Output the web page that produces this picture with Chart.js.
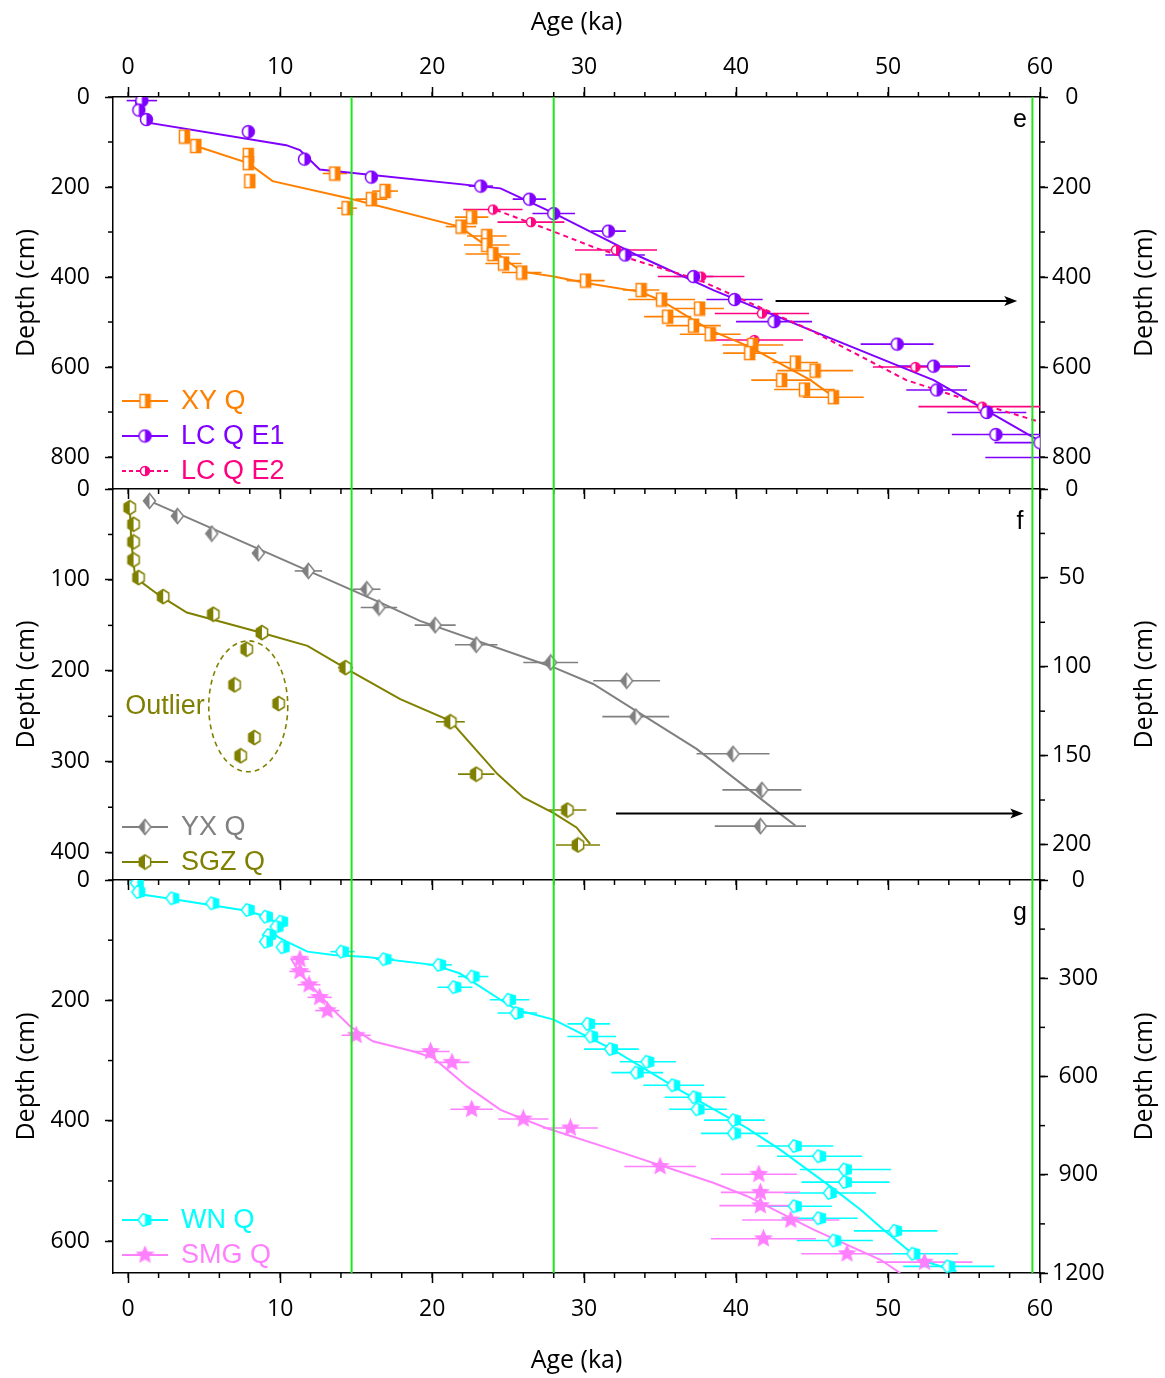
<!DOCTYPE html>
<html>
<head>
<meta charset="utf-8">
<script src="https://cdn.jsdelivr.net/npm/chart.js@4.4.1/dist/chart.umd.min.js"></script>
<style>
  html, body { margin: 0; padding: 0; background: #fff; }
  #wrap { position: relative; width: 1165px; height: 1378px; background: #fff; }
  #wrap canvas { position: absolute; left: 0; }
</style>
</head>
<body>
<div id="wrap">
  <canvas id="pe" width="1165" height="500" style="top:0px"></canvas>
  <canvas id="pf" width="1165" height="422" style="top:469px"></canvas>
  <canvas id="pg" width="1165" height="518" style="top:860px"></canvas>
</div>
<script>
// ---- shared axis values ----
const AGE_MIN = -1, AGE_MAX = 60;
const AGE_TICKS = [0, 10, 20, 30, 40, 50, 60];
const BOUNDARIES = [14.7, 28.0, 59.5];

// ---- panel e ----
const E_MAX = 871;
const E_TICKS = [0, 200, 400, 600, 800];
const XY_AGE = [3.7, 4.45, 7.9, 7.9, 8.0, 13.6, 16.9, 16.0, 14.4, 22.6, 21.9, 23.6, 23.6, 24.0, 24.7, 25.9, 30.1, 33.75, 35.1, 37.6, 35.5, 37.2, 38.3, 41.1, 40.9, 43.9, 45.2, 43.0, 44.5, 46.4];
const XY_DEPTH = [88, 109, 129, 147, 187, 170, 209, 227, 247, 267, 288, 309, 329, 349, 370, 390, 408, 429, 450, 470, 488, 508, 527, 551, 569, 590, 608, 629, 650, 667];
const XY_ERR = [0.3, 0.3, 0.3, 0.3, 0.3, 0.8, 0.85, 1.05, 0.65, 1.1, 1.0, 1.3, 1.5, 1.8, 1.2, 1.3, 1.25, 1.2, 2.2, 1.6, 1.55, 1.8, 2.0, 2.0, 1.75, 1.5, 2.5, 2.0, 2.0, 2.0];
const XY_LINE_AGE = [4.45, 7.9, 9.5, 14.5, 21.8, 23.2, 25.9, 28.0, 30.2, 33.7, 35.0, 38.3, 40.9, 44.9, 46.7];
const XY_LINE_DEPTH = [109, 147, 187, 225, 288, 322, 388, 399, 414, 433, 451, 518, 555, 629, 673];

const E1_AGE = [0.9, 0.7, 1.2, 7.9, 11.6, 16.0, 23.2, 26.4, 28.0, 31.6, 32.7, 37.2, 39.9, 42.5, 50.6, 53.0, 53.2, 56.5, 57.1, 60.0, 62.0];
const E1_DEPTH = [8, 29, 50, 77, 138, 178, 198, 227, 259, 298, 351, 399, 450, 499, 549, 598, 651, 701, 750, 768, 801];
const E1_ERR = [1.0, 0.2, 0.2, 0.2, 0.2, 0.3, 0.8, 1.1, 1.4, 1.15, 1.3, 1.3, 1.85, 2.5, 2.4, 2.4, 2.0, 2.6, 2.9, 3.0, 5.6];
const E1_LINE_AGE = [0.5, 0.6, 1.1, 10.4, 11.3, 12.6, 24.5, 28.0, 33.7, 38.5, 44.9, 53.0, 59.5, 60.0];
const E1_LINE_DEPTH = [7, 33, 56, 107, 118, 161, 203, 258, 355, 429, 518, 629, 755, 764];

const E2_AGE = [24.0, 26.5, 32.1, 37.7, 41.7, 41.2, 51.8, 56.2];
const E2_DEPTH = [250, 278, 340, 399, 481, 540, 600, 688];
const E2_ERR = [1.95, 2.2, 2.7, 2.85, 3.1, 3.2, 2.8, 4.2];
const E2_LINE_AGE = [24.2, 28.0, 30.8, 37.6, 44.9, 51.2, 55.2, 60.0];
const E2_LINE_DEPTH = [251, 299, 336, 407, 518, 629, 673, 722];

// ---- panel f ----
const F_MAX = 430, F2_MAX = 220;
const F_TICKS = [0, 100, 200, 300, 400];
const F2_TICKS = [0, 50, 100, 150, 200];
const YX_AGE = [1.4, 3.24, 5.5, 8.57, 11.86, 15.7, 16.5, 20.2, 22.9, 27.8, 32.8, 33.4, 39.8, 41.7, 41.6];
const YX_DEPTH = [6.7, 15.2, 25.1, 36.1, 46.1, 56.4, 66.7, 76.6, 87.6, 97.6, 107.9, 128.1, 149.0, 169.3, 189.7];
const YX_ERR = [0, 0, 0.2, 0.4, 0.9, 0.9, 1.2, 1.35, 1.4, 1.8, 2.2, 2.2, 2.4, 2.6, 3.0];
const YX_LINE_AGE = [1.1, 16.6, 19.2, 28.0, 30.6, 34.1, 37.4, 42.9, 43.9];
const YX_LINE_DEPTH = [5.6, 63.9, 74.2, 100.4, 109.7, 128.5, 146.2, 182.8, 189.3];

const SGZ_AGE = [0.1, 0.35, 0.35, 0.35, 0.68, 2.3, 5.6, 8.8, 14.3, 21.2, 22.9, 28.9, 29.6, 7.8, 7.0, 9.9, 8.3, 7.4];
const SGZ_DEPTH = [20.5, 38.8, 58.2, 78.0, 97.4, 118.3, 137.7, 157.9, 196.4, 256, 313.6, 353.1, 391.5, 176.2, 215.4, 235.9, 273.3, 293.4];
const SGZ_ERR = [0, 0, 0, 0, 0, 0.2, 0.2, 0.3, 0.5, 0.95, 1.2, 1.25, 1.45, 0, 0, 0, 0, 0];
const SGZ_LINE_AGE = [0.09, 0.2, 0.46, 2.1, 3.86, 8.7, 11.8, 14.6, 17.9, 21.2, 24.3, 26.0, 28.0, 29.5, 30.4];
const SGZ_LINE_DEPTH = [15.1, 57, 97.5, 117.6, 135.9, 157.9, 172.5, 200, 231.1, 254.9, 313.5, 339.2, 356.4, 372.2, 390.4];

// ---- panel g ----
const G_MAX = 653, G2_MAX = 1200;
const G_TICKS = [0, 200, 400, 600];
const G2_TICKS = [0, 300, 600, 900, 1200];
const WN_AGE = [0.6, 0.7, 2.94, 5.57, 7.9, 9.1, 10.1, 9.8, 9.3, 9.1, 10.2, 14.1, 16.9, 20.5, 22.7, 21.5, 25.1, 25.6, 30.3, 30.5, 31.8, 34.2, 33.5, 35.9, 37.3, 37.5, 39.9, 39.9, 43.9, 45.5, 47.2, 47.2, 46.2, 43.9, 45.5, 46.5, 50.5, 51.7, 54.0];
const WN_DEPTH = [5, 20, 30.4, 38.7, 49.8, 60.9, 69.2, 77.5, 91.3, 102.4, 111.8, 119, 131.6, 141, 160.4, 178.1, 199, 221, 239, 260, 281, 302, 320, 341, 361, 381, 399, 421, 442, 459, 481, 502, 520, 542, 562, 599, 583, 621, 642];
const WN_ERR = [0, 0, 0, 0, 0, 0, 0, 0, 0, 0, 0, 0.8, 0.6, 0.8, 1.0, 1.15, 1.3, 1.3, 1.4, 1.6, 1.8, 1.85, 1.7, 2.0, 2.0, 1.9, 2.0, 2.2, 2.5, 2.8, 3.0, 2.9, 3.0, 2.4, 2.5, 2.5, 2.75, 2.9, 3.0];
const WN_LINE_AGE = [0.35, 3.0, 7.8, 9.1, 9.8, 9.6, 9.8, 10.4, 11.8, 13.5, 15.7, 20.1, 21.8, 24.5, 25.6, 28.0, 31.9, 36.3, 40.7, 42.9, 46.2, 48.2, 49.7, 52.1, 54.5];
const WN_LINE_DEPTH = [22, 32, 51, 61, 72, 86, 94, 102, 119, 124.5, 128, 141, 155, 199, 216, 232, 282, 349, 412, 448, 509, 548, 581, 631, 650];

const SMG_AGE = [11.3, 11.3, 11.9, 12.6, 13.1, 15.0, 19.9, 21.3, 22.6, 26.0, 29.1, 35.0, 41.5, 41.6, 41.6, 43.6, 41.8, 47.3, 52.4];
const SMG_DEPTH = [131.7, 152, 174, 195, 217, 258, 285, 303, 381, 397, 412, 476, 489, 519, 541, 565, 596, 621, 635];
const SMG_ERR = [0.6, 0.7, 0.75, 0.8, 0.8, 0.95, 1.25, 1.15, 1.4, 1.65, 1.8, 2.35, 2.5, 2.6, 2.7, 3.2, 3.45, 3.0, 3.15];
const SMG_LINE_AGE = [10.7, 11.3, 13.5, 14.6, 16.1, 18.8, 20.1, 22.3, 24.5, 27.5, 31.9, 38.5, 40.7, 45.1, 49.5, 50.8];
const SMG_LINE_DEPTH = [130, 155, 216, 243, 268, 285, 296, 343, 382, 412, 448, 503, 525, 581, 631, 653];

// colours
const C_XY = '#ff8000', C_E1 = '#8000ff', C_E2 = '#ff0080';
const C_YX = '#808080', C_SGZ = '#808000';
const C_WN = '#00ffff', C_SMG = '#ff80ff';
const C_GREEN = '#1ee61e';

const FONT = "'Open Sans', 'DejaVu Sans', sans-serif";
Chart.defaults.font.family = FONT;
Chart.defaults.font.size = 23;
Chart.defaults.color = '#000';

const zip = (xs, ys) => xs.map((x, i) => ({ x: x, y: ys[i] }));

// half filled marker images
function shapePath(g, shape, rx, ry) {
  g.beginPath();
  if (shape === 'square') {
    g.rect(-rx, -ry, 2 * rx, 2 * ry);
  } else if (shape === 'circle') {
    g.ellipse(0, 0, rx, ry, 0, 0, Math.PI * 2);
  } else if (shape === 'diamond') {
    g.moveTo(0, -ry); g.lineTo(rx, 0); g.lineTo(0, ry); g.lineTo(-rx, 0); g.closePath();
  } else if (shape === 'hexagon' || shape === 'pentagon' || shape === 'star') {
    const n = shape === 'hexagon' ? 6 : 5;
    const start = shape === 'pentagon' ? Math.PI : -Math.PI / 2;
    const pts = shape === 'star' ? 2 * n : n;
    for (let k = 0; k < pts; k++) {
      const ang = start + k * Math.PI * 2 / pts;
      const f = shape === 'star' && k % 2 ? 0.45 : 1;
      const px = Math.cos(ang) * rx * f, py = Math.sin(ang) * ry * f;
      k ? g.lineTo(px, py) : g.moveTo(px, py);
    }
    g.closePath();
  }
}

function marker(shape, color, side, w, h) {
  const c = document.createElement('canvas');
  c.width = w + 3; c.height = h + 3;
  const g = c.getContext('2d');
  g.translate(c.width / 2, c.height / 2);
  shapePath(g, shape, w / 2, h / 2);
  g.fillStyle = '#fff';
  g.fill();
  g.save();
  g.clip();
  g.fillStyle = color;
  if (side === 'right') g.fillRect(0, -h, w, 2 * h);
  else if (side === 'left') g.fillRect(-w, -h, w, 2 * h);
  else g.fillRect(-w, -h, 2 * w, 2 * h);
  g.restore();
  shapePath(g, shape, w / 2, h / 2);
  g.strokeStyle = color;
  g.lineWidth = 1.5;
  g.stroke();
  return c;
}

const M_XY = marker('square', C_XY, 'right', 10, 13);
const M_E1 = marker('circle', C_E1, 'right', 12, 12);
const M_E2 = marker('circle', C_E2, 'right', 9, 9);
const M_YX = marker('diamond', C_YX, 'left', 12, 15);
const M_SGZ = marker('hexagon', C_SGZ, 'left', 13, 14);
const M_WN = marker('pentagon', C_WN, 'right', 14, 13);
const M_SMG = marker('star', C_SMG, 'all', 16, 16);

// extras drawn on top of each panel
const DECOR = {
  pe: {
    letter: 'e', letterY: 23,
    minor: { x: 2, xb: 2, y: 100, y2: 100 },
    legend: [
      { text: 'XY Q', color: C_XY, marker: M_XY },
      { text: 'LC Q E1', color: C_E1, marker: M_E1 },
      { text: 'LC Q E2', color: C_E2, marker: M_E2, dash: [4, 3] }
    ],
    arrow: { from: 42.6, to: 58.5, depth: 453, axis: 'y' }
  },
  pf: {
    letter: 'f', letterY: 33,
    minor: { x: 2, y: 50, y2: 25 },
    legend: [
      { text: 'YX Q', color: C_YX, marker: M_YX },
      { text: 'SGZ Q', color: C_SGZ, marker: M_SGZ }
    ],
    arrow: { from: 32.1, to: 58.9, depth: 357, axis: 'y' },
    ellipse: { age: 7.9, depth: 239, rAge: 2.6, rDepth: 72, label: 'Outlier', color: C_SGZ }
  },
  pg: {
    letter: 'g', letterY: 33,
    minor: { x: 2, y: 100, y2: 150 },
    legend: [
      { text: 'WN Q', color: C_WN, marker: M_WN },
      { text: 'SMG Q', color: C_SMG, marker: M_SMG }
    ]
  }
};

const decor = {
  id: 'decor',
  beforeDatasetsDraw(chart) {
    const ctx = chart.ctx, a = chart.chartArea;
    ctx.save();
    ctx.beginPath();
    ctx.rect(a.left, a.top, a.right - a.left, a.bottom - a.top);
    ctx.clip();
    chart.data.datasets.forEach(ds => {
      if (!ds.errX) return;
      const xs = chart.scales[ds.xAxisID || 'x'], ys = chart.scales[ds.yAxisID || 'y'];
      ctx.strokeStyle = ds.borderColor;
      ctx.lineWidth = 1.6;
      ds.data.forEach((p, i) => {
        const e = ds.errX[i];
        if (!e) return;
        const y = ys.getPixelForValue(p.y);
        ctx.beginPath();
        ctx.moveTo(xs.getPixelForValue(p.x - e), y);
        ctx.lineTo(xs.getPixelForValue(p.x + e), y);
        ctx.stroke();
      });
    });
    ctx.restore();
  },
  afterDatasetsDraw(chart) {
    const d = DECOR[chart.canvas.id];
    const ctx = chart.ctx, a = chart.chartArea, xs = chart.scales.x;
    ctx.save();
    // boundary lines
    ctx.strokeStyle = C_GREEN;
    ctx.lineWidth = 2;
    BOUNDARIES.forEach(v => {
      const px = xs.getPixelForValue(v);
      ctx.beginPath(); ctx.moveTo(px, a.top); ctx.lineTo(px, a.bottom); ctx.stroke();
    });
    if (d.arrow) {
      const ys = chart.scales[d.arrow.axis];
      const y = ys.getPixelForValue(d.arrow.depth);
      const x1 = xs.getPixelForValue(d.arrow.from), x2 = xs.getPixelForValue(d.arrow.to);
      ctx.strokeStyle = '#000'; ctx.fillStyle = '#000'; ctx.lineWidth = 2;
      ctx.beginPath(); ctx.moveTo(x1, y); ctx.lineTo(x2 - 8, y); ctx.stroke();
      ctx.beginPath(); ctx.moveTo(x2, y); ctx.lineTo(x2 - 13, y - 5); ctx.lineTo(x2 - 10, y); ctx.lineTo(x2 - 13, y + 5); ctx.closePath(); ctx.fill();
    }
    if (d.ellipse) {
      const el = d.ellipse, ys = chart.scales.y;
      const cx = xs.getPixelForValue(el.age), cy = ys.getPixelForValue(el.depth);
      const rx = xs.getPixelForValue(el.age + el.rAge) - cx;
      const ry = ys.getPixelForValue(el.depth + el.rDepth) - cy;
      ctx.strokeStyle = el.color; ctx.lineWidth = 1.6; ctx.setLineDash([5, 4]);
      ctx.beginPath(); ctx.ellipse(cx, cy, rx, ry, 0, 0, Math.PI * 2); ctx.stroke();
      ctx.setLineDash([]);
      ctx.fillStyle = el.color;
      ctx.font = "27px 'Liberation Sans', Arial, sans-serif";
      ctx.textAlign = 'right'; ctx.textBaseline = 'middle';
      ctx.fillText(el.label, cx - rx - 4, cy);
    }
    ctx.restore();
  },
  afterDraw(chart) {
    const d = DECOR[chart.canvas.id];
    const ctx = chart.ctx, a = chart.chartArea;
    ctx.save();
    // minor ticks
    ctx.strokeStyle = '#000'; ctx.lineWidth = 1.5;
    Object.keys(d.minor).forEach(id => {
      const s = chart.scales[id], step = d.minor[id];
      for (let v = 0; v <= s.max + 1e-6; v += step) {
        if (v < s.min) continue;
        const p = s.getPixelForValue(v);
        ctx.beginPath();
        if (s.position === 'top') { ctx.moveTo(p, a.top); ctx.lineTo(p, a.top - 5); }
        else if (s.position === 'bottom') { ctx.moveTo(p, a.bottom); ctx.lineTo(p, a.bottom + 5); }
        else if (s.position === 'left') { ctx.moveTo(a.left, p); ctx.lineTo(a.left - 5, p); }
        else { ctx.moveTo(a.right, p); ctx.lineTo(a.right + 5, p); }
        ctx.stroke();
      }
    });
    // right axis title, same reading direction as the left one
    const r = chart.scales.y2;
    ctx.fillStyle = '#000';
    ctx.font = '25px ' + FONT;
    ctx.textAlign = 'center'; ctx.textBaseline = 'middle';
    ctx.save();
    ctx.translate(r.right - 20, (a.top + a.bottom) / 2);
    ctx.rotate(-Math.PI / 2);
    ctx.fillText('Depth (cm)', 0, 0);
    ctx.restore();
    // legend
    const n = d.legend.length;
    d.legend.forEach((it, i) => {
      const y = a.bottom - 18 - 35 * (n - 1 - i);
      ctx.strokeStyle = it.color; ctx.lineWidth = 2;
      ctx.setLineDash(it.dash || []);
      ctx.beginPath(); ctx.moveTo(a.left + 9, y); ctx.lineTo(a.left + 55, y); ctx.stroke();
      ctx.setLineDash([]);
      ctx.drawImage(it.marker, a.left + 32 - it.marker.width / 2, y - it.marker.height / 2);
      ctx.fillStyle = it.color;
      ctx.font = "27px 'Liberation Sans', Arial, sans-serif";
      ctx.textAlign = 'left'; ctx.textBaseline = 'middle';
      ctx.fillText(it.text, a.left + 68, y + 1);
    });
    // panel letter
    ctx.fillStyle = '#000';
    ctx.font = "25px 'Liberation Sans', Arial, sans-serif";
    ctx.textAlign = 'center'; ctx.textBaseline = 'middle';
    ctx.fillText(d.letter, a.right - 20, a.top + d.letterY);
    ctx.restore();
  }
};
Chart.register(decor);

function xAxis(position, labels, height) {
  return {
    type: 'linear', position: position, min: AGE_MIN, max: AGE_MAX,
    afterBuildTicks: s => { s.ticks = AGE_TICKS.map(v => ({ value: v })); },
    afterFit: s => { s.height = height; s.paddingLeft = 0; s.paddingRight = 0; },
    grid: { drawOnChartArea: false, drawTicks: true, tickLength: 10, tickWidth: 1.5, tickColor: '#000' },
    border: { display: true, color: '#000', width: 1.5 },
    ticks: { display: labels, padding: position === 'top' ? 6 : 13, maxRotation: 0, autoSkip: false, callback: v => String(v) },
    title: { display: labels, text: 'Age (ka)', font: { size: 25 }, padding: { top: 8, bottom: 2 } }
  };
}

function yAxis(position, max, ticks) {
  const left = position === 'left';
  return {
    type: 'linear', position: position, reverse: true, min: 0, max: max,
    afterBuildTicks: s => { s.ticks = ticks.map(v => ({ value: v })); },
    afterFit: s => { s.width = left ? 113 : 125; s.paddingTop = 0; s.paddingBottom = 0; },
    grid: { drawOnChartArea: false, drawTicks: true, tickLength: 8, tickWidth: 1.5, tickColor: '#000' },
    border: { display: true, color: '#000', width: 1.5 },
    ticks: { padding: left ? 15 : 4, crossAlign: left ? 'near' : 'center', autoSkip: false, callback: v => String(v) },
    title: { display: left, text: 'Depth (cm)', font: { size: 25 }, padding: { top: 12, bottom: 4 } }
  };
}

function points(label, age, depth, err, color, mk, axis) {
  return {
    label: label, data: zip(age, depth), errX: err, yAxisID: axis || 'y',
    borderColor: color, backgroundColor: color, pointStyle: mk, pointRadius: 6, showLine: false
  };
}

function curve(age, depth, color, axis, dash) {
  return {
    data: zip(age, depth), yAxisID: axis || 'y', showLine: true, borderColor: color,
    borderWidth: 2, borderDash: dash || [], pointRadius: 0, fill: false, tension: 0
  };
}

function makeChart(id, datasets, scales, padTop) {
  return new Chart(document.getElementById(id), {
    type: 'scatter',
    data: { datasets: datasets },
    options: {
      responsive: false, animation: false, events: [], devicePixelRatio: 1,
      layout: { padding: { top: padTop, left: 0, right: 0, bottom: 0 } },
      plugins: { legend: { display: false }, tooltip: { enabled: false } },
      scales: scales
    }
  });
}

makeChart('pe', [
  points('XY Q', XY_AGE, XY_DEPTH, XY_ERR, C_XY, M_XY),
  points('LC Q E1', E1_AGE, E1_DEPTH, E1_ERR, C_E1, M_E1),
  points('LC Q E2', E2_AGE, E2_DEPTH, E2_ERR, C_E2, M_E2),
  curve(XY_LINE_AGE, XY_LINE_DEPTH, C_XY),
  curve(E2_LINE_AGE, E2_LINE_DEPTH, C_E2, 'y', [5, 4]),
  curve(E1_LINE_AGE, E1_LINE_DEPTH, C_E1)
], {
  x: xAxis('top', true, 97),
  xb: xAxis('bottom', false, 11),
  y: yAxis('left', E_MAX, E_TICKS),
  y2: yAxis('right', E_MAX, E_TICKS)
}, 0);

makeChart('pf', [
  points('YX Q', YX_AGE, YX_DEPTH, YX_ERR, C_YX, M_YX, 'y2'),
  points('SGZ Q', SGZ_AGE, SGZ_DEPTH, SGZ_ERR, C_SGZ, M_SGZ),
  curve(YX_LINE_AGE, YX_LINE_DEPTH, C_YX, 'y2'),
  curve(SGZ_LINE_AGE, SGZ_LINE_DEPTH, C_SGZ)
], {
  x: xAxis('bottom', false, 11),
  y: yAxis('left', F_MAX, F_TICKS),
  y2: yAxis('right', F2_MAX, F2_TICKS)
}, 20);

makeChart('pg', [
  points('WN Q', WN_AGE, WN_DEPTH, WN_ERR, C_WN, M_WN),
  points('SMG Q', SMG_AGE, SMG_DEPTH, SMG_ERR, C_SMG, M_SMG),
  curve(WN_LINE_AGE, WN_LINE_DEPTH, C_WN),
  curve(SMG_LINE_AGE, SMG_LINE_DEPTH, C_SMG)
], {
  x: xAxis('bottom', true, 105),
  y: yAxis('left', G_MAX, G_TICKS),
  y2: yAxis('right', G2_MAX, G2_TICKS)
}, 20);
</script>
</body>
</html>
